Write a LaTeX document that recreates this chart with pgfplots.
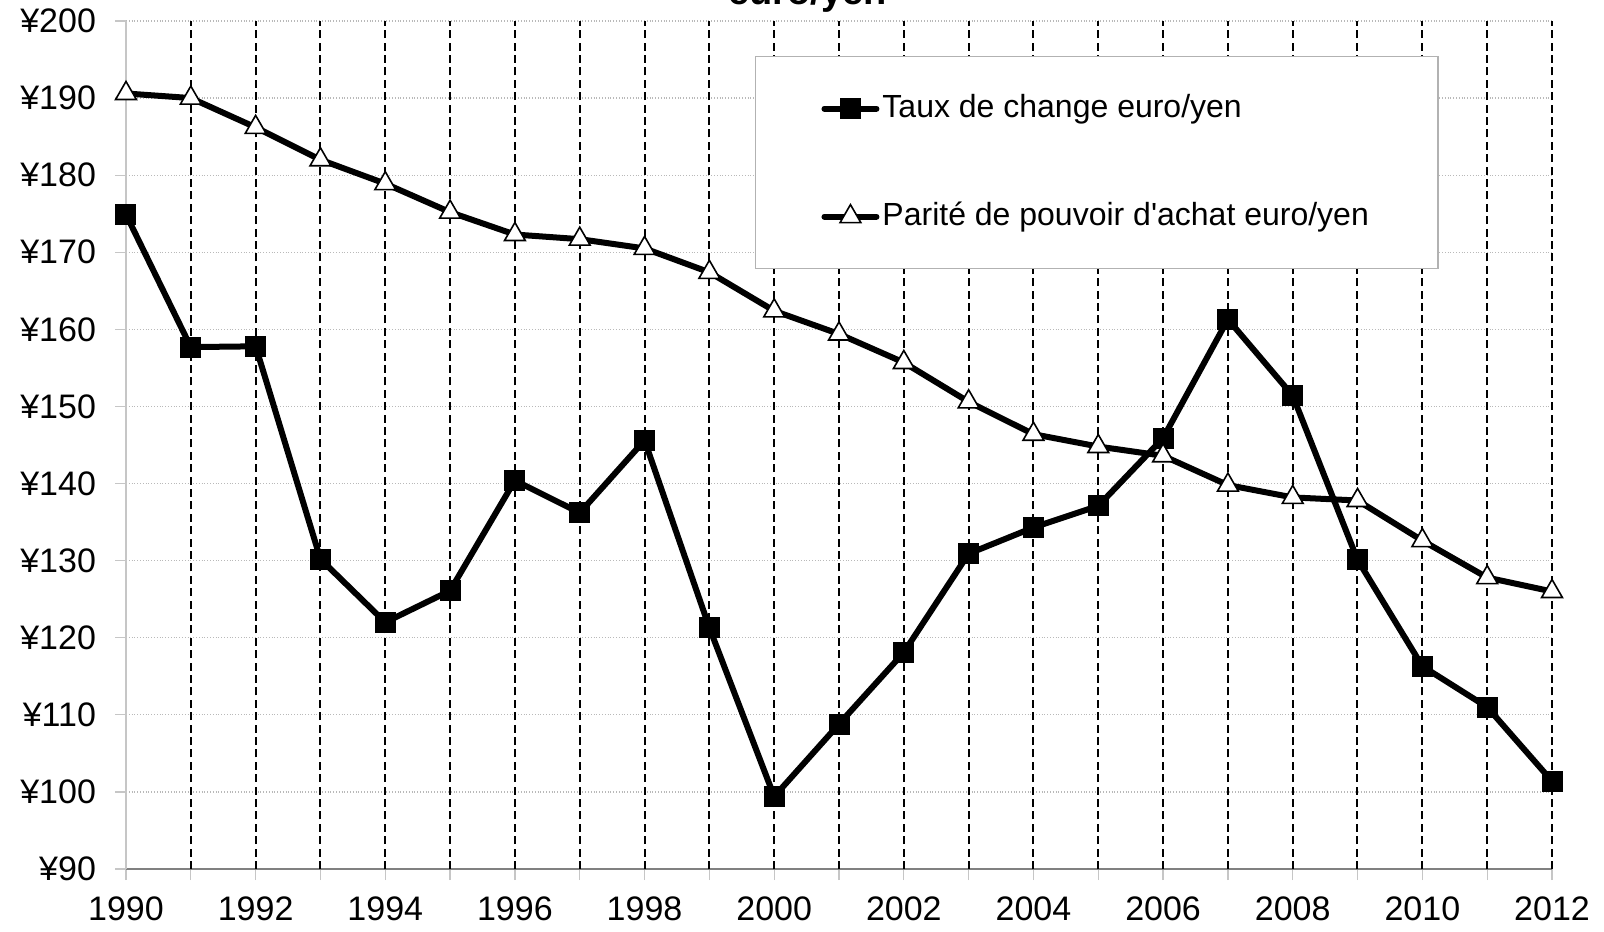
\documentclass[border=0pt]{standalone}
\usepackage{fontspec}
\setmainfont{Liberation Sans}
\usepackage{pgfplots}
\pgfplotsset{compat=1.18}
\begin{document}
\fontsize{16}{19}\selectfont
\begin{tikzpicture}
\begin{axis}[
  name=ax,
  at={(0,0)}, anchor=south west,
  scale only axis, width=713pt, height=424pt,
  xmin=1990, xmax=2012, ymin=90, ymax=200,
  clip=false,
  axis lines=left,
  axis line style={-},
  x axis line style={draw=gray, line width=0.8pt},
  y axis line style={draw=gray!45, line width=0.6pt},
  xtick={1990,1992,...,2012},
  minor xtick={1991,1993,...,2011},
  ytick={90,100,...,200},
  tick align=outside,
  major tick length=5.5pt, minor tick length=5.5pt,
  tick style={draw=gray!45, line width=0.6pt},
  x tick label style={font=\fontsize{17}{20}\selectfont, /pgf/number format/1000 sep={}, yshift=-3pt},
  y tick label style={font=\fontsize{17}{20}\selectfont, xshift=-4pt},
  /pgf/number format/assume math mode=true,
  xticklabel={\pgfmathprintnumber[1000 sep={}]{\tick}},
  yticklabel={¥\pgfmathprintnumber{\tick}},
  ymajorgrids=true,
  y grid style={gray!55, densely dotted, line width=0.6pt},
  extra x ticks={1991,1992,...,2012},
  extra x tick labels={},
  extra x tick style={grid=major, major grid style={black, dash pattern=on 4pt off 2.2pt, line width=1pt}, major tick length=0pt},
  legend cell align=left,
  legend style={at={(0.441,0.9587)}, anchor=north west, draw=gray!60, line width=0.6pt,
    font=\fontsize{16}{19}\selectfont, inner xsep=33pt, inner ysep=17pt, row sep=36pt,
    nodes={inner sep=1.5pt, text height=12pt, text depth=3pt}},
  legend image code/.code={\draw[line cap=round, mark repeat=2, mark phase=2] plot coordinates {(0pt,0pt) (13pt,0pt) (26pt,0pt)};},
]
\addplot[black, line width=3pt, mark=square*, mark size=5pt, mark options={solid, fill=black, line width=0.5pt}]
coordinates {
(1990,174.9) (1991,157.7) (1992,157.8) (1993,130.2) (1994,122.0) (1995,126.1)
(1996,140.4) (1997,136.2) (1998,145.6) (1999,121.3) (2000,99.4) (2001,108.8)
(2002,118.1) (2003,130.9) (2004,134.3) (2005,137.1) (2006,145.9) (2007,161.3)
(2008,151.4) (2009,130.1) (2010,116.3) (2011,111.0) (2012,101.4)
};
\addlegendentry{Taux de change euro/yen}
\addplot[black, line width=3pt, mark=triangle*, mark size=6pt, mark options={solid, fill=white, draw=black, line width=0.8pt}]
coordinates {
(1990,190.6) (1991,190.0) (1992,186.2) (1993,182.0) (1994,178.9) (1995,175.2)
(1996,172.3) (1997,171.7) (1998,170.5) (1999,167.4) (2000,162.4) (2001,159.4)
(2002,155.7) (2003,150.6) (2004,146.4) (2005,144.8) (2006,143.6) (2007,139.8)
(2008,138.2) (2009,137.8) (2010,132.6) (2011,127.8) (2012,126.0)
};
\addlegendentry{Parité de pouvoir d\textquotesingle achat euro/yen}
\node[anchor=base, font=\bfseries\fontsize{19}{23}\selectfont, yshift=8pt] at (rel axis cs:0.478,1) {euro/yen};
\end{axis}
\pgfresetboundingbox
\path[use as bounding box] ([shift={(-63pt,-31pt)}]ax.south west) rectangle ([shift={(26pt,10.5pt)}]ax.north east);
\end{tikzpicture}
\end{document}
